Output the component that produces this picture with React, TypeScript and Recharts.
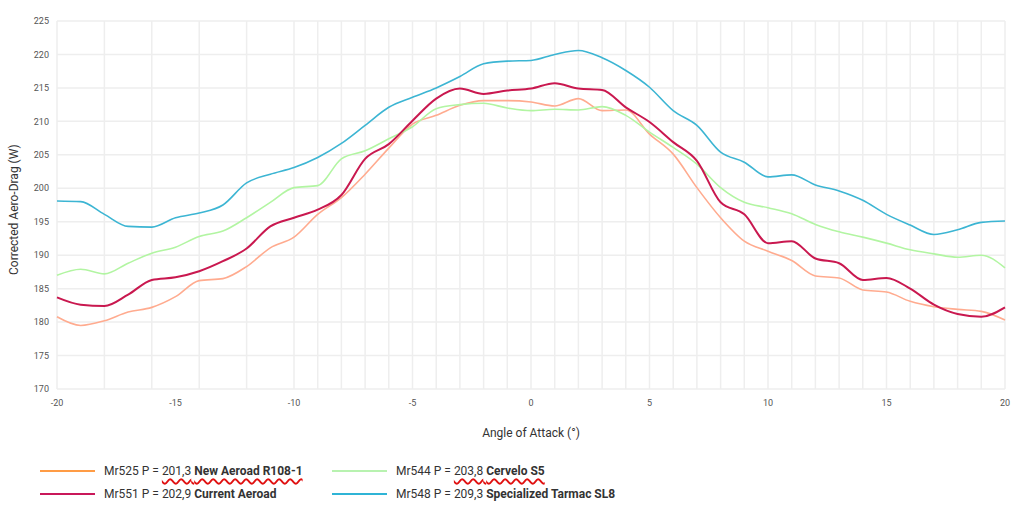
import { LineChart, Line, XAxis, YAxis, CartesianGrid } from 'recharts';

// angle of attack, degrees
const angles = [
  -20, -19, -18, -17, -16, -15, -14, -13, -12, -11, -10, -9, -8, -7, -6, -5, -4, -3, -2, -1, 0,
  1, 2, 3, 4, 5, 6, 7, 8, 9, 10, 11, 12, 13, 14, 15, 16, 17, 18, 19, 20,
];

const newAeroad = [
  180.8, 179.5, 180.2, 181.5, 182.2, 183.8, 186.2, 186.5, 188.3, 191.1, 192.7, 196.1, 198.6, 202.1, 206.0, 209.6, 210.9, 212.4, 213.1, 213.1, 212.9,
  212.3, 213.4, 211.6, 211.7, 208.1, 205.1, 200.1, 195.6, 192.1, 190.6, 189.2, 186.9, 186.6, 184.8, 184.5, 183.1, 182.3, 181.9, 181.6, 180.3,
];

const currentAeroad = [
  183.7, 182.6, 182.4, 184.1, 186.3, 186.7, 187.6, 189.1, 191.0, 194.3, 195.6, 196.8, 199.0, 204.4, 206.6, 210.1, 213.4, 214.9, 214.1, 214.6, 214.9,
  215.7, 214.9, 214.7, 212.1, 209.9, 206.9, 204.1, 197.9, 196.1, 191.8, 192.1, 189.5, 188.8, 186.3, 186.6, 185.0, 182.6, 181.2, 180.8, 182.2,
];

const cerveloS5 = [
  187.0, 187.9, 187.2, 188.8, 190.3, 191.2, 192.8, 193.6, 195.6, 197.9, 200.1, 200.4, 204.4, 205.6, 207.4, 209.2, 211.9, 212.5, 212.7, 212.0, 211.6,
  211.8, 211.7, 212.2, 210.9, 208.4, 206.1, 203.6, 200.1, 197.9, 197.1, 196.2, 194.6, 193.5, 192.7, 191.8, 190.8, 190.2, 189.7, 190.0, 188.1,
];

const tarmacSL8 = [
  198.1, 198.0, 196.1, 194.3, 194.2, 195.6, 196.3, 197.5, 200.8, 202.1, 203.1, 204.6, 206.7, 209.4, 212.1, 213.6, 215.0, 216.7, 218.6, 219.0, 219.1,
  220.0, 220.6, 219.5, 217.6, 215.1, 211.6, 209.4, 205.4, 203.9, 201.7, 202.0, 200.5, 199.6, 198.2, 196.1, 194.5, 193.1, 193.8, 194.9, 195.1,
];

const xTicks = [-20, -15, -10, -5, 0, 5, 10, 15, 20];
const yTicks = [170, 175, 180, 185, 190, 195, 200, 205, 210, 215, 220, 225];
const gridX = angles;
const gridY = [170, 172.5, 175, 177.5, 180, 182.5, 185, 187.5, 190, 192.5, 195, 197.5, 200, 202.5, 205, 207.5, 210, 212.5, 215, 217.5, 220, 222.5, 225];

const series = [
  { key: 'mr525', label: 'Mr525 P = ', power: '201,3', name: 'New Aeroad R108-1', values: newAeroad, color: '#ffab8f', legendColor: '#ff9c45', width: 1.6, mark: true },
  { key: 'mr544', label: 'Mr544 P = ', power: '203,8', name: 'Cervelo S5', values: cerveloS5, color: '#b2f5a2', legendColor: '#b8f2b0', width: 1.6, mark: true },
  { key: 'mr551', label: 'Mr551 P = ', power: '202,9', name: 'Current Aeroad', values: currentAeroad, color: '#c9184f', legendColor: '#c9185a', width: 2, mark: false },
  { key: 'mr548', label: 'Mr548 P = ', power: '209,3', name: 'Specialized Tarmac SL8', values: tarmacSL8, color: '#3cb5d3', legendColor: '#2fb4d6', width: 1.6, mark: false },
];

const data = angles.map((a, i) => {
  const row: Record<string, number> = { angle: a };
  series.forEach((s) => (row[s.key] = s.values[i]));
  return row;
});

const tickStyle = { fontSize: 9, fill: '#555', fontFamily: 'Roboto, sans-serif' };

function LegendItem({ s, left, top }: { s: (typeof series)[number]; left: number; top: number }) {
  return (
    <div style={{ position: 'absolute', left, top, display: 'flex', alignItems: 'center', whiteSpace: 'nowrap' }}>
      <div style={{ width: 55, height: 0, borderTop: `2px solid ${s.legendColor}`, marginRight: 9 }} />
      <span style={{ color: '#333' }}>
        {s.label}
        <span style={s.mark ? { textDecoration: 'underline wavy #e01010', textDecorationThickness: 1.5, textUnderlineOffset: 3 } : undefined}>
          {s.power} <b>{s.name}</b>
        </span>
      </span>
    </div>
  );
}

export default function App() {
  return (
    <div style={{ position: 'absolute', left: 0, top: 0, width: 1024, height: 512, background: '#fff', fontFamily: 'Roboto, sans-serif', fontSize: 12 }}>
      <LineChart width={1024} height={445} data={data} margin={{ top: 21, right: 19, left: 22, bottom: 2 }}>
        <CartesianGrid stroke="#eeeeee" strokeWidth={1.5} horizontalValues={gridY} verticalValues={gridX} />
        <XAxis
          dataKey="angle"
          type="number"
          domain={[-20, 20]}
          ticks={xTicks}
          axisLine={false}
          tickLine={false}
          tick={tickStyle}
          tickMargin={5}
          height={54}
          label={{ value: 'Angle of Attack (°)', position: 'insideBottom', offset: 6, fill: '#333', fontSize: 12 }}
        />
        <YAxis
          type="number"
          domain={[170, 225]}
          ticks={yTicks}
          axisLine={false}
          tickLine={false}
          tick={tickStyle}
          tickMargin={2}
          width={35}
          label={{ value: 'Corrected Aero-Drag (W)', angle: -90, position: 'insideLeft', offset: -8, dy: 70, fill: '#333', fontSize: 12 }}
        />
        {series.map((s) => (
          <Line
            key={s.key}
            dataKey={s.key}
            type="monotone"
            stroke={s.color}
            strokeWidth={s.width}
            dot={false}
            isAnimationActive={false}
          />
        ))}
      </LineChart>
      <LegendItem s={series[0]} left={40} top={464} />
      <LegendItem s={series[2]} left={40} top={487} />
      <LegendItem s={series[1]} left={332} top={464} />
      <LegendItem s={series[3]} left={332} top={487} />
    </div>
  );
}
